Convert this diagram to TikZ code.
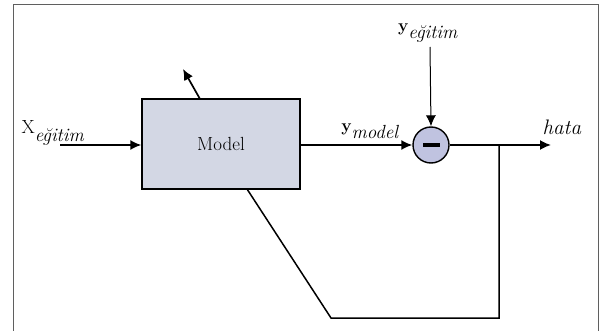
\documentclass[tikz,border=0pt]{standalone}
\usetikzlibrary{arrows.meta}
\definecolor{boxfill}{RGB}{211,215,228}
\definecolor{sumfill}{RGB}{192,195,224}
\definecolor{framegray}{RGB}{95,95,95}
\begin{document}
\begin{tikzpicture}[x=1pt,y=-1pt,
  flow/.style={line width=1.7pt,-{Latex[length=11pt,width=10pt]}},
  thinflow/.style={line width=1pt,-{Latex[length=11pt,width=10pt]}},
  wire/.style={line width=1.5pt},
  lbl/.style={inner sep=0pt,font=\fontsize{19}{21}\selectfont}]
\useasboundingbox (0,0) rectangle (600,331);
% outer frame (open at the bottom)
\draw[framegray,line width=1pt] (13,340) -- (13,5) -- (598,5) -- (598,340);

% blocks
\node[draw,line width=1.4pt,fill=boxfill,minimum width=158pt,minimum height=90pt,
      inner sep=0pt,font=\fontsize{19}{21}\selectfont] (model) at (221,144) {Model};
\node[draw,circle,line width=1.4pt,fill=sumfill,minimum size=36pt,inner sep=0pt] (sum) at (431,145) {};
\fill (sum.center) ++(-8.5,-2.2) rectangle ++(17,4.4);

% coordinates
\coordinate (xin) at (60,145);
\coordinate (mdin) at (model.west |- xin);
\coordinate (upfoot) at (200,99);
\coordinate (uptip) at (183,69);
\coordinate (ytop) at (430,47);
\coordinate (hataend) at (551,145);
\coordinate (branch) at (499,145);
\coordinate (fbcorner) at (499,318);
\coordinate (fbleft) at (331,318);
\coordinate (fbfoot) at (247,189);

% labels
\node[lbl] (xlbl) at (53,133) {X$_{\textit{eğitim}}$};
\node[lbl] (ymlbl) at (370,131) {$\mathbf{y}_{\textit{model}}$};
\node[lbl] (yelbl) at (428,33) {$\mathbf{y}_{\textit{eğitim}}$};
\node[lbl,font=\fontsize{21}{23}\selectfont] (hata) at (562,127) {\textit{hata}};

% connectors
\draw[flow] (xin) -- (mdin);
\draw[flow] (upfoot) -- (uptip);
\draw[flow] (model.east |- sum) -- (sum.west);
\draw[thinflow] (ytop) -- (sum.north);
\draw[flow] (sum.east) -- (hataend);
\draw[wire] (branch) -- (fbcorner) -- (fbleft) -- (fbfoot);
\end{tikzpicture}
\end{document}
